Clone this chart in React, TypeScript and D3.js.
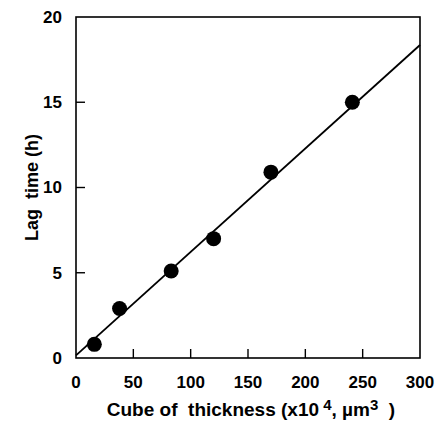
import React from 'react';
import * as d3 from 'd3';

// measured points (x10^4 µm^3, hours)
const thickness = [16, 38, 83, 120, 170, 241];
const lagTime = [0.8, 2.9, 5.1, 7.0, 10.9, 15.0];
// fitted regression line
const fitIntercept = 0.15;
const fitSlope = 0.0607;
const xTicks = [0, 50, 100, 150, 200, 250, 300];
const yTicks = [0, 5, 10, 15, 20];

const W = 438;
const H = 421;
const margin = { top: 17, right: 18, bottom: 63, left: 76 };

const App: React.FC = () => {
  const x = d3.scaleLinear().domain([0, 300]).range([margin.left, W - margin.right]);
  const y = d3.scaleLinear().domain([0, 20]).range([H - margin.bottom, margin.top]);
  const font = '"Liberation Sans", Arial, sans-serif';

  const fitLine = d3.line<number>()
    .x(d => x(d))
    .y(d => y(fitIntercept + fitSlope * d));

  return (
    <svg width={W} height={H} style={{ position: 'absolute', left: 0, top: 0, background: '#fff' }}
      fontFamily={font} fontWeight="bold">
      {/* frame */}
      <rect x={x(0)} y={y(20)} width={x(300) - x(0)} height={y(0) - y(20)}
        fill="none" stroke="#000" strokeWidth={1.6} />

      {/* y ticks */}
      {yTicks.map(t => (
        <g key={`y${t}`}>
          {t > 0 && t < 20 && (
            <line x1={x(0)} x2={x(0) + 9} y1={y(t)} y2={y(t)} stroke="#000" strokeWidth={1.4} />
          )}
          <text x={62} y={y(t)} dy="0.35em" textAnchor="end" fontSize={17}>{t}</text>
        </g>
      ))}

      {/* x ticks */}
      {xTicks.map(t => (
        <g key={`x${t}`}>
          {t > 0 && t < 300 && (
            <line x1={x(t)} x2={x(t)} y1={y(0)} y2={y(0) - 9} stroke="#000" strokeWidth={1.4} />
          )}
          <text x={x(t)} y={388} textAnchor="middle" fontSize={17}>{t}</text>
        </g>
      ))}

      {/* regression line */}
      <path d={fitLine([0, 300]) ?? ''} fill="none" stroke="#000" strokeWidth={1.8} />

      {/* data points */}
      {thickness.map((t, i) => (
        <circle key={i} cx={x(t)} cy={y(lagTime[i])} r={7.5} fill="#000" />
      ))}

      {/* axis titles */}
      <text x={251} y={416} textAnchor="middle" fontSize={19} style={{ whiteSpace: 'pre' }}>
        {'Cube of  thickness (x10'}
        <tspan fontSize={15} dy={-6}>{' 4'}</tspan>
        <tspan dy={6}>{', µm'}</tspan>
        <tspan fontSize={15} dy={-6}>3</tspan>
        <tspan dy={6}>{'  )'}</tspan>
      </text>
      <text transform={`translate(38,${(y(0) + y(20)) / 2}) rotate(-90)`} textAnchor="middle" fontSize={18}
        style={{ whiteSpace: 'pre' }}>
        {'Lag  time (h)'}
      </text>
    </svg>
  );
};

export default App;
